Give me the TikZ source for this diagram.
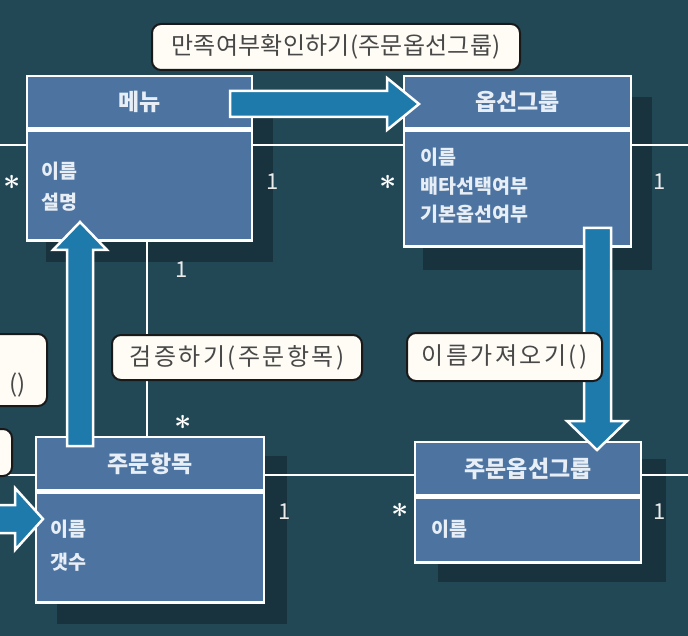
\documentclass[tikz,border=0pt]{standalone}
\usepackage{fontspec}
\newfontfamily\kr{Noto Sans CJK KR}
\usetikzlibrary{positioning}

\definecolor{board}{RGB}{34,72,86}
\definecolor{boxblue}{RGB}{77,116,161}
\definecolor{arrowblue}{RGB}{30,122,170}
\definecolor{notefill}{RGB}{254,252,245}
\definecolor{notetext}{RGB}{72,72,72}
\definecolor{boxtext}{RGB}{232,238,245}

\pgfdeclarelayer{board}
\pgfdeclarelayer{shade}
\pgfdeclarelayer{wires}
\pgfsetlayers{board,shade,wires,main}

\tikzset{
  classhead/.style={draw=white, line width=2.5pt, fill=boxblue, text=boxtext,
    font=\kr\bfseries\fontsize{23}{27}\selectfont, inner sep=0pt},
  classbody/.style={draw=white, line width=2.5pt, fill=boxblue, inner sep=0pt},
  attrs/.style={text=boxtext, font=\kr\bfseries\fontsize{19.5}{#1}\selectfont,
    align=left, inner sep=0pt, anchor=north west},
  assoc/.style={draw=white, line width=2pt},
  mult/.style={text=white!92!black, font=\kr\fontsize{22}{26}\selectfont, inner sep=0pt},
  multstar/.style={text=white, inner sep=0pt},
  note/.style={draw=black!90, line width=2pt, fill=notefill, rounded corners=9pt,
    text=notetext, font=\kr\fontsize{24}{28}\selectfont\addfontfeature{LetterSpace=#1},
    inner sep=0pt},
  note/.default=1,
  bigarrow/.style={draw=white, line width=2.5pt, fill=arrowblue, line join=miter},
  boxshadow/.style={fill=black, opacity=0.28}
}
\newcommand{\multstar}{\scalebox{3}{\boldmath$\ast$}}

\begin{document}
\begin{tikzpicture}[x=1pt, y=-1pt]
  \useasboundingbox (0,0) rectangle (688,636);
  \begin{pgfonlayer}{board}
    \fill[board] (0,0) rectangle (688,636);
  \end{pgfonlayer}

  % classes
  \node[classhead, minimum width=225pt, minimum height=52pt] (menuh) at (139.5,102) {메뉴};
  \node[classbody, minimum width=225pt, minimum height=110pt, below=0pt of menuh] (menub) {};
  \node[attrs=31] (menua) at ([shift={(16pt,-33pt)}]menub.north west) {이름\\설명};

  \node[classhead, minimum width=227pt, minimum height=52pt] (opth) at (517.5,102) {옵선그룹};
  \node[classbody, minimum width=227pt, minimum height=116pt, below=0pt of opth] (optb) {};
  \node[attrs=28.5] (opta) at ([shift={(18pt,-19pt)}]optb.north west) {이름\\배타선택여부\\기본옵선여부};

  \node[classhead, minimum width=228pt, minimum height=53pt] (itemh) at (150,463.5) {주문항목};
  \node[classbody, minimum width=228pt, minimum height=110pt, below=0pt of itemh] (itemb) {};
  \node[attrs=33] (itema) at ([shift={(16pt,-29pt)}]itemb.north west) {이름\\갯수};

  \node[classhead, minimum width=226pt, minimum height=53pt] (ioph) at (528,468.5) {주문옵선그룹};
  \node[classbody, minimum width=226pt, minimum height=65pt, below=0pt of ioph] (iopb) {};
  \node[attrs=30] (iopa) at ([shift={(18pt,-24pt)}]iopb.north west) {이름};

  % shadows
  \begin{pgfonlayer}{shade}
    \fill[boxshadow] ([shift={(20pt,-20pt)}]menuh.north west) rectangle ([shift={(20pt,-20pt)}]menub.south east);
    \fill[boxshadow] ([shift={(20pt,-22pt)}]opth.north west) rectangle ([shift={(20pt,-22pt)}]optb.south east);
    \fill[boxshadow] ([shift={(22pt,-20pt)}]itemh.north west) rectangle ([shift={(22pt,-20pt)}]itemb.south east);
    \fill[boxshadow] ([shift={(24pt,-18pt)}]ioph.north west) rectangle ([shift={(24pt,-18pt)}]iopb.south east);
  \end{pgfonlayer}

  % associations
  \begin{pgfonlayer}{wires}
    \coordinate (west1) at (0,145);
    \coordinate (east1) at (688,145);
    \coordinate (west2) at (0,475);
    \coordinate (east2) at (688,475);
    \coordinate (trunk) at (147,0);
    \draw[assoc] (west1) -- (west1 -| menub.west);
    \draw[assoc] (menub.east |- west1) -- (optb.west |- west1);
    \draw[assoc] (optb.east |- east1) -- (east1);
    \draw[assoc] (menub.south -| trunk) -- (itemh.north -| trunk);
    \draw[assoc] (west2) -- (west2 -| itemh.west);
    \draw[assoc] (itemh.east |- west2) -- (ioph.west |- west2);
    \draw[assoc] (ioph.east |- east2) -- (east2);
  \end{pgfonlayer}

  % multiplicities
  \node[multstar] (m1) at (12,182) {\multstar};
  \node[mult]     (m2) at (273,182) {1};
  \node[multstar] (m3) at (388,182) {\multstar};
  \node[mult]     (m4) at (660,182) {1};
  \node[mult]     (m5) at (182,270) {1};
  \node[multstar] (m6) at (183,422) {\multstar};
  \node[mult]     (m7) at (285,512) {1};
  \node[multstar] (m8) at (400,510) {\multstar};
  \node[mult]     (m9) at (660,512) {1};

  % messages
  \draw[bigarrow] (230,91) -- (387,91) -- (387,78) -- (419,104) -- (387,130)
    -- (387,117) -- (230,117) -- cycle;
  \draw[bigarrow] (67,446) -- (67,250) -- (53,250) -- (80,222) -- (107,250)
    -- (93,250) -- (93,446) -- cycle;
  \draw[bigarrow] (584,228) -- (611,228) -- (611,421) -- (627,421) -- (597,450)
    -- (567,421) -- (584,421) -- cycle;
  \draw[bigarrow] (-5,505) -- (15,505) -- (15,488) -- (43,519) -- (15,550)
    -- (15,533) -- (-5,533) -- cycle;

  \node[note, minimum width=368pt, minimum height=46pt] (check) at (336,47) {만족여부확인하기(주문옵선그룹)};
  \node[note=10, minimum width=250pt, minimum height=45pt] (verify) at (237,357.5) {검증하기(주문항목)};
  \node[note=10, minimum width=195pt, minimum height=48pt] (getname) at (504.5,357) {이름가져오기()};
  \node[note, minimum width=120pt, minimum height=72pt, anchor=north east] (cuta) at (48,333) {};
  \node[text=notetext, font=\kr\fontsize{24}{28}\selectfont, inner sep=0pt, anchor=east] (cutatext) at (26,385) {()};
  \node[note, minimum width=60pt, minimum height=47pt, anchor=north east] (cutb) at (13,428) {};
\end{tikzpicture}
\end{document}
